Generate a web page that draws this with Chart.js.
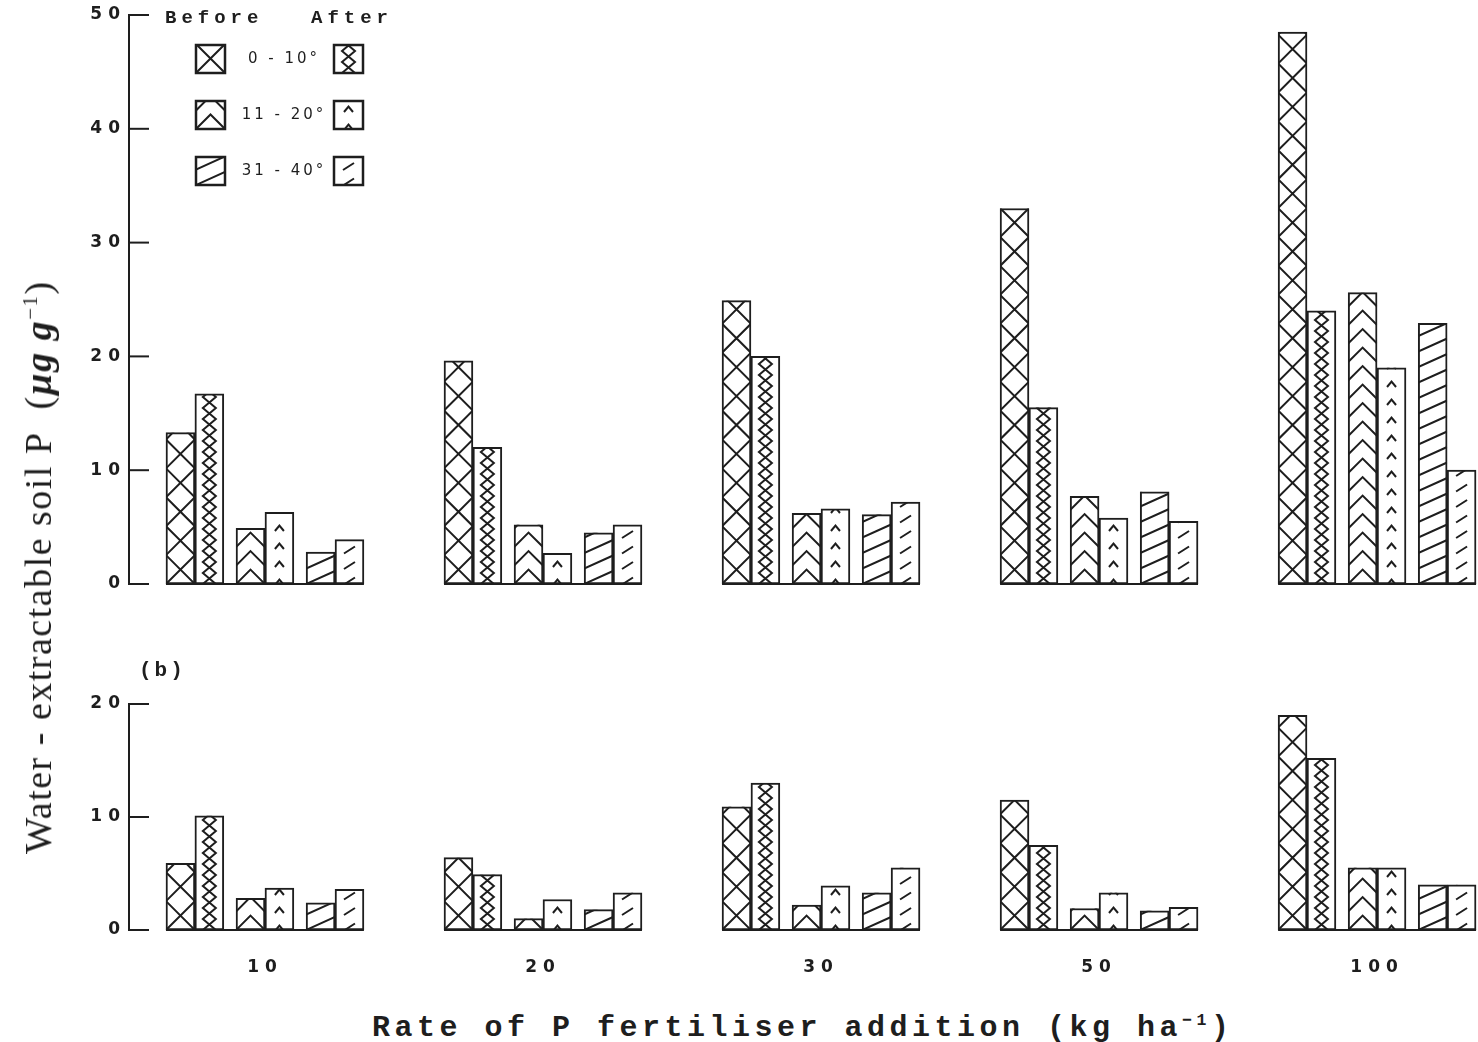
<!DOCTYPE html>
<html>
<head>
<meta charset="utf-8">
<script src="https://cdn.jsdelivr.net/npm/chart.js@4/dist/chart.umd.min.js"></script>
<style>
  html, body { margin: 0; padding: 0; background: #fff; }
  #fig { position: relative; width: 1478px; height: 1042px; overflow: hidden; background: #fff; color: #1e1e1e; }
  #topCanvas { position: absolute; left: 0; top: 0; }
  #botCanvas { position: absolute; left: 0; top: 640px; }
  .ytitle {
    position: absolute; left: 38px; top: 567px;
    transform: translate(-50%, -50%) rotate(-90deg);
    white-space: nowrap; font-family: "Liberation Serif", serif; font-size: 38px; letter-spacing: 1.5px;
  }
  .ytitle i { font-weight: bold; }
  .ytitle sup, .xtitle sup { font-size: 55%; }
  .xtitle {
    position: absolute; left: 372px; top: 1006px; line-height: 30px;
    white-space: nowrap; font-family: "Liberation Mono", monospace; font-weight: bold; font-size: 30px; letter-spacing: 4.5px;
  }
  .panel-b {
    position: absolute; left: 139px; top: 659px; line-height: 24px;
    font-family: "Liberation Mono", monospace; font-weight: bold; font-size: 21px; letter-spacing: 3px;
  }
</style>
</head>
<body>
<div id="fig">
  <canvas id="topCanvas" width="1478" height="600"></canvas>
  <canvas id="botCanvas" width="1478" height="350"></canvas>
  <div class="ytitle">Water - extractable soil P&nbsp;&nbsp;(<i>µg g</i><sup>−1</sup>)</div>
  <div class="panel-b">(b)</div>
  <div class="xtitle">Rate of P fertiliser addition (kg ha<sup>−1</sup>)</div>
</div>
<script>
// P application rates (kg/ha) and soil depth classes
const categories = ['10', '20', '30', '50', '100'];
const depthLabels = ['0 - 10°', '11 - 20°', '31 - 40°'];

// Panel (a): water-extractable P (µg/g)
const a_0_10_before  = [13.3, 19.6, 24.9, 33.0, 48.5];
const a_0_10_after   = [16.7, 12.0, 20.0, 15.5, 24.0];
const a_11_20_before = [4.9, 5.2, 6.2, 7.7, 25.6];
const a_11_20_after  = [6.3, 2.7, 6.6, 5.8, 19.0];
const a_31_40_before = [2.8, 4.5, 6.1, 8.1, 22.9];
const a_31_40_after  = [3.9, 5.2, 7.2, 5.5, 10.0];

// Panel (b): water-extractable P (µg/g)
const b_0_10_before  = [5.9, 6.4, 10.9, 11.5, 19.0];
const b_0_10_after   = [10.1, 4.9, 13.0, 7.5, 15.2];
const b_11_20_before = [2.8, 1.0, 2.2, 1.9, 5.5];
const b_11_20_after  = [3.7, 2.7, 3.9, 3.3, 5.5];
const b_31_40_before = [2.4, 1.8, 3.3, 1.7, 4.0];
const b_31_40_after  = [3.6, 3.3, 5.5, 2.0, 4.0];

// Y-axis tick values
const yTicksA = [0, 10, 20, 30, 40, 50];
const yTicksB = [0, 10, 20];

// ---- layout / style ----
const INK = '#1e1e1e';
// each bar sits at (category index + offset); pairs (before/after) touch
const SLOT_OFFSETS = [-0.304, -0.2, -0.052, 0.052, 0.2, 0.304];
const HATCHES = ['cross', 'chain', 'chevron', 'caret', 'slash', 'dash'];
const X_MIN = -0.489, X_MAX = 4.363;
const AXIS_X = 129;
const TICK_FONT = { family: 'DejaVu Sans', size: 17, weight: 'bold' };

function drawHatch(ctx, kind, left, right, top, bottom) {
  const w = right - left, c = (left + right) / 2;
  ctx.save();
  ctx.beginPath();
  ctx.rect(left, top, w, bottom - top);
  ctx.clip();
  ctx.strokeStyle = INK;
  ctx.lineWidth = 2;
  ctx.lineJoin = 'miter';
  ctx.beginPath();
  if (kind === 'cross') {
    for (let y = bottom; y > top - w; y -= w) {
      ctx.moveTo(left, y); ctx.lineTo(right, y - w);
      ctx.moveTo(right, y); ctx.lineTo(left, y - w);
    }
  } else if (kind === 'chain') {
    const a = 6.5, p = 11;
    for (const sgn of [1, -1]) {
      let k = 0;
      ctx.moveTo(c - sgn * a, bottom);
      for (let y = bottom; y > top - p; y -= p) {
        k++;
        ctx.lineTo(c + sgn * (k % 2 ? a : -a), y - p);
      }
    }
  } else if (kind === 'chevron') {
    const p = 18.5, rise = w / 2;
    for (let y = bottom; y > top - p; y -= p) {
      ctx.moveTo(left, y); ctx.lineTo(c, y - rise); ctx.lineTo(right, y);
    }
  } else if (kind === 'caret') {
    const p = 18, hw = 4.5, rise = 5.5;
    for (let y = bottom + 1; y > top - p; y -= p) {
      ctx.moveTo(c - hw, y); ctx.lineTo(c, y - rise); ctx.lineTo(c + hw, y);
    }
  } else if (kind === 'slash') {
    const p = 15.5, rise = w * 0.45;
    for (let y = bottom; y > top - p; y -= p) {
      ctx.moveTo(left, y); ctx.lineTo(right, y - rise);
    }
  } else if (kind === 'dash') {
    const p = 15.5, dx = 5.5, dy = 3.5;
    for (let y = bottom - 3; y > top - p; y -= p) {
      ctx.moveTo(c - dx, y + dy); ctx.lineTo(c + dx, y - dy);
    }
  }
  ctx.stroke();
  ctx.restore();
}

const hatchPlugin = {
  id: 'hatch',
  beforeDraw(chart) {
    chart.ctx.letterSpacing = '6px';
  },
  afterDatasetDraw(chart, args) {
    const ds = chart.data.datasets[args.index];
    const ctx = chart.ctx;
    args.meta.data.forEach(bar => {
      const p = bar.getProps(['x', 'y', 'base', 'width'], true);
      drawHatch(ctx, ds.hatch, p.x - p.width / 2, p.x + p.width / 2,
                Math.min(p.y, p.base), Math.max(p.y, p.base));
    });
  },
  afterDatasetsDraw(chart) {
    // a base line under every group of bars
    const ctx = chart.ctx;
    const y0 = chart.scales.y.getPixelForValue(0);
    const metas = chart.getSortedVisibleDatasetMetas();
    ctx.save();
    ctx.strokeStyle = INK;
    ctx.lineWidth = 2;
    categories.forEach((_, i) => {
      let lo = Infinity, hi = -Infinity;
      metas.forEach(m => {
        const b = m.data[i];
        if (!b) return;
        const p = b.getProps(['x', 'width'], true);
        lo = Math.min(lo, p.x - p.width / 2);
        hi = Math.max(hi, p.x + p.width / 2);
      });
      ctx.beginPath();
      ctx.moveTo(lo, y0); ctx.lineTo(hi, y0);
      ctx.stroke();
    });
    ctx.restore();
  },
  afterDraw(chart, args, opts) {
    const ctx = chart.ctx;
    const ys = chart.scales.y;
    const left = chart.chartArea.left;
    // inward tick marks
    ctx.save();
    ctx.strokeStyle = INK;
    ctx.lineWidth = 2;
    ys.ticks.forEach((t, i) => {
      const y = ys.getPixelForTick(i);
      ctx.beginPath();
      ctx.moveTo(left - 1, y); ctx.lineTo(left + 20, y);
      ctx.stroke();
    });
    ctx.restore();
    if (opts.legend) drawLegend(chart);
  }
};

function drawLegend(chart) {
  const ctx = chart.ctx;
  const ds = chart.data.datasets;
  ctx.save();
  ctx.fillStyle = INK;
  ctx.textBaseline = 'middle';
  ctx.textAlign = 'left';
  ctx.font = 'bold 19px "Liberation Mono"';
  ctx.letterSpacing = '5px';
  ctx.fillText('Before', 165, 18);
  ctx.fillText('After', 311, 18);
  const rowTops = [45, 101, 157];
  const box = 29;
  depthLabels.forEach((lab, r) => {
    const top = rowTops[r];
    [[196, ds[2 * r]], [334, ds[2 * r + 1]]].forEach(([x, d]) => {
      ctx.fillStyle = '#fff';
      ctx.fillRect(x, top, box, box - 1);
      drawHatch(ctx, d.hatch, x, x + box, top, top + box - 1);
      ctx.strokeStyle = INK;
      ctx.lineWidth = 2.5;
      ctx.strokeRect(x, top, box, box - 1);
    });
    ctx.fillStyle = INK;
    ctx.font = '15px "DejaVu Sans"';
    ctx.letterSpacing = '3px';
    ctx.textAlign = 'center';
    ctx.fillText(lab, 284, top + 14);
    ctx.textAlign = 'left';
  });
  ctx.restore();
}

function makeDatasets(seriesList) {
  return seriesList.map((values, k) => ({
    label: depthLabels[Math.floor(k / 2)] + (k % 2 ? ' After' : ' Before'),
    hatch: HATCHES[k],
    backgroundColor: '#fff',
    borderColor: INK,
    borderWidth: 2,
    data: values.map((v, i) => ({ x: i + SLOT_OFFSETS[k], y: v }))
  }));
}

function makeOptions(yMax, yTicks, showX, padTop, padBottom, legend) {
  return {
    responsive: false,
    animation: false,
    layout: { padding: { left: 0, right: 0, top: padTop, bottom: padBottom } },
    plugins: { legend: { display: false }, tooltip: { enabled: false }, colors: { enabled: false }, hatch: { legend } },
    datasets: {
      bar: { grouped: false, categoryPercentage: 1, barPercentage: 1, borderSkipped: false }
    },
    scales: {
      x: {
        type: 'linear', min: X_MIN, max: X_MAX, offset: false, display: showX,
        grid: { display: false, drawTicks: false },
        border: { display: false },
        afterBuildTicks: s => { s.ticks = categories.map((c, i) => ({ value: i })); },
        afterFit: s => { s.height = showX ? 60 : 0; },
        ticks: {
          autoSkip: false, maxRotation: 0, padding: 27, color: INK,
          font: TICK_FONT,
          callback: v => categories[v]
        }
      },
      y: {
        min: 0, max: yMax,
        afterBuildTicks: s => { s.ticks = yTicks.map(v => ({ value: v })); },
        afterFit: s => { s.width = AXIS_X; },
        grid: { display: false, drawTicks: false },
        border: { display: true, color: INK, width: 2 },
        ticks: { padding: 3, color: INK, font: TICK_FONT }
      }
    }
  };
}

new Chart(document.getElementById('topCanvas'), {
  type: 'bar',
  data: { datasets: makeDatasets([a_0_10_before, a_0_10_after, a_11_20_before, a_11_20_after, a_31_40_before, a_31_40_after]) },
  options: makeOptions(50, yTicksA, false, 15, 16, true),
  plugins: [hatchPlugin]
});

new Chart(document.getElementById('botCanvas'), {
  type: 'bar',
  data: { datasets: makeDatasets([b_0_10_before, b_0_10_after, b_11_20_before, b_11_20_after, b_31_40_before, b_31_40_after]) },
  options: makeOptions(20, yTicksB, true, 64, 0, false),
  plugins: [hatchPlugin]
});
</script>
</body>
</html>
